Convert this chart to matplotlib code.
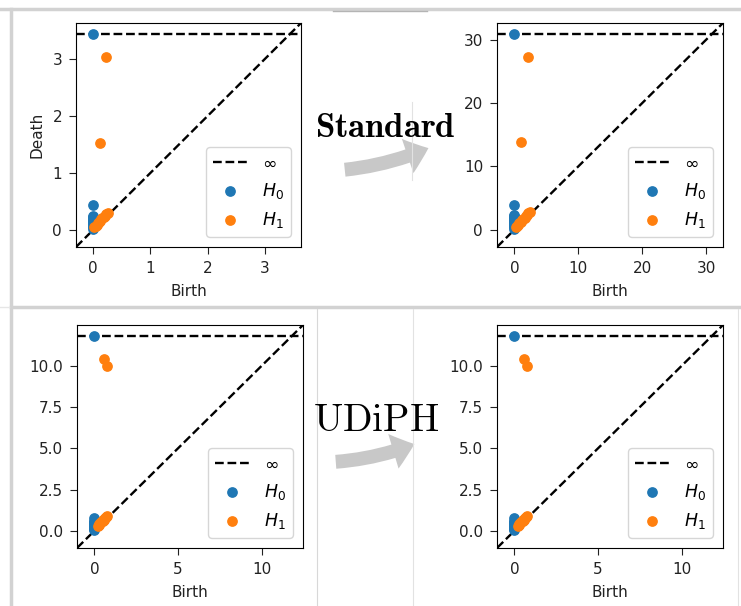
import numpy as np
import matplotlib
matplotlib.use("Agg")
import matplotlib.pyplot as plt
from matplotlib.patches import FancyArrowPatch
from matplotlib.ticker import MultipleLocator

# persistence diagrams (birth, death)
# top row: original data, standard Rips
std_h0_death = [0.02, 0.04, 0.06, 0.08, 0.10, 0.12, 0.14, 0.16, 0.18, 0.20, 0.22, 0.25, 0.43, np.inf]
std_h1_birth = [0.02, 0.04, 0.06, 0.08, 0.10, 0.12, 0.14, 0.16, 0.18, 0.20, 0.22, 0.25, 0.11, 0.23]
std_h1_death = [0.04, 0.07, 0.09, 0.12, 0.13, 0.16, 0.19, 0.20, 0.23, 0.25, 0.28, 0.30, 1.53, 3.03]

# top row right: rescaled data
big_h0_death = [0.2, 0.4, 0.6, 0.8, 1.0, 1.2, 1.4, 1.6, 1.8, 2.0, 2.2, 2.4, 3.9, np.inf]
big_h1_birth = [0.2, 0.4, 0.6, 0.8, 1.0, 1.2, 1.4, 1.6, 1.8, 2.0, 2.2, 2.4, 1.0, 2.1]
big_h1_death = [0.4, 0.6, 0.8, 1.1, 1.2, 1.5, 1.7, 1.9, 2.1, 2.3, 2.6, 2.8, 13.9, 27.2]

# bottom row: UDiPH, same diagram for both
ud_h0_death = [0.05, 0.1, 0.15, 0.2, 0.25, 0.3, 0.35, 0.4, 0.45, 0.5, 0.55, 0.6, 0.75, np.inf]
ud_h1_birth = [0.20, 0.25, 0.30, 0.35, 0.40, 0.45, 0.50, 0.55, 0.60, 0.65, 0.70, 0.75, 0.55, 0.75]
ud_h1_death = [0.30, 0.35, 0.42, 0.48, 0.52, 0.58, 0.62, 0.68, 0.74, 0.80, 0.85, 0.90, 10.4, 10.0]

panels = [
    ("std", std_h0_death, std_h1_birth, std_h1_death),
    ("big", big_h0_death, big_h1_birth, big_h1_death),
    ("ud1", ud_h0_death, ud_h1_birth, ud_h1_death),
    ("ud2", ud_h0_death, ud_h1_birth, ud_h1_death),
]

W, H = 741, 606
fig = plt.figure(figsize=(W / 100, H / 100), dpi=100)

# background layer in pixel coordinates for frames, labels and arrows
bg = fig.add_axes([0, 0, 1, 1], zorder=-1)
bg.set_xlim(0, W)
bg.set_ylim(H, 0)
bg.axis("off")

frame_col = "#d2d2d2"
bg.plot([0, W], [9, 9], color=frame_col, lw=2.5)
bg.plot([11, 11], [9, H], color=frame_col, lw=2.5)
bg.plot([11, W], [307, 307], color=frame_col, lw=2.5)
bg.plot([0, 9], [307, 307], color="#e6e6e6", lw=1)
bg.plot([333, 427], [11, 11], color="#b4b4b4", lw=1)
bg.plot([317, 317], [309, H], color="#d8d8d8", lw=0.8)
bg.plot([413, 413], [309, H], color="#e2e2e2", lw=0.8)
bg.plot([412, 412], [102, 180], color="#e2e2e2", lw=0.8)
bg.plot([738, 738], [309, H], color="#e2e2e2", lw=0.8)

bg.text(385, 127, r"$\mathbf{Standard}$", math_fontfamily="cm",
        fontsize=25, ha="center", va="center")
bg.text(376, 420, r"$\mathrm{UDiPH}$", math_fontfamily="cm",
        fontsize=28, ha="center", va="center")

arrow_col = "#c8c8c8"
for tail, head in [((342, 170), (431, 147)), ((333, 462), (417, 443))]:
    bg.add_patch(FancyArrowPatch(tail, head,
                                 arrowstyle="simple,head_length=16,head_width=26,tail_width=10",
                                 connectionstyle="arc3,rad=0.08",
                                 color=arrow_col, lw=0, mutation_scale=1))

# axes boxes in pixels: left, top, right, bottom
boxes = [(76, 23, 301, 247), (497, 23, 723, 247),
         (77, 325, 303, 548), (497, 325, 723, 548)]

for (name, h0d, h1b, h1d), (l, t, r, b) in zip(panels, boxes):
    ax = fig.add_axes([l / W, (H - b) / H, (r - l) / W, (b - t) / H])
    h0d = np.array(h0d)
    h1b = np.array(h1b)
    h1d = np.array(h1d)
    h0b = np.zeros_like(h0d)

    # persim style limits
    finite = np.concatenate([h0b, h0d[np.isfinite(h0d)], h1b, h1d])
    lo, hi = finite.min(), finite.max()
    buf = (hi - lo) / 5
    x_down, x_up = lo - buf / 2, hi + buf
    b_inf = x_down + (x_up - x_down) * 0.95

    ax.plot([x_down, x_up], [x_down, x_up], "--", color="k", lw=1.7)
    ax.plot([x_down, x_up], [b_inf, b_inf], "--", color="k", lw=1.7, label=r"$\infty$")
    h0d_plot = np.where(np.isinf(h0d), b_inf, h0d)
    ax.scatter(h0b, h0d_plot, s=45, color="C0", label=r"$H_0$", zorder=3)
    ax.scatter(h1b, h1d, s=45, color="C1", label=r"$H_1$", zorder=3)

    ax.set_xlim(x_down, x_up)
    ax.set_ylim(x_down, x_up)
    if name.startswith("ud"):
        ax.yaxis.set_major_locator(MultipleLocator(2.5))
    ax.tick_params(labelsize=11, length=5, pad=5, colors="#222222")
    ax.set_xlabel("Birth", fontsize=11, labelpad=6, color="#222222")
    if name == "std":
        ax.set_ylabel("Death", fontsize=11, labelpad=6, color="#222222")
    ax.legend(loc="lower right", fontsize=12.5, borderaxespad=0.6)

fig.savefig("out.png", dpi=100)
